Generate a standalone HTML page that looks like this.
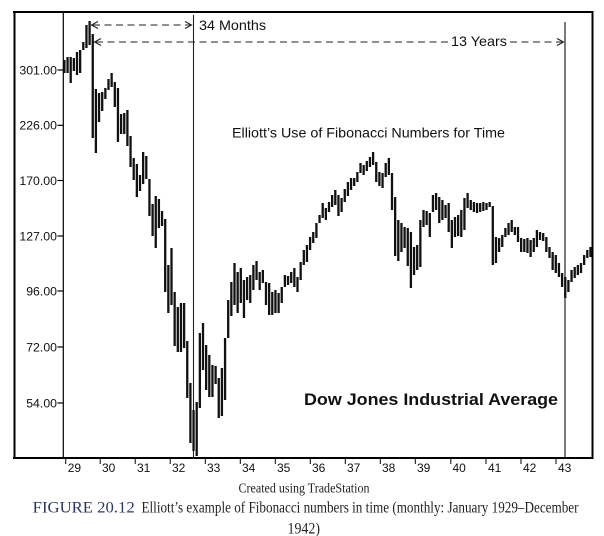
<!DOCTYPE html>
<html><head><meta charset="utf-8"><style>
html,body{margin:0;padding:0;background:#fff;}
svg{display:block;}
</style></head><body>
<svg width="604" height="536" viewBox="0 0 604 536" xmlns="http://www.w3.org/2000/svg">
<rect width="604" height="536" fill="#fff"/>
<!-- frame -->
<g stroke="#000" fill="none">
<line x1="13" y1="12" x2="593.5" y2="12" stroke-width="2"/>
<line x1="14.5" y1="11" x2="14.5" y2="459" stroke-width="2"/>
<line x1="13" y1="458" x2="593.5" y2="458" stroke-width="2"/>
<line x1="592.5" y1="11" x2="592.5" y2="459" stroke-width="2"/>
<line x1="63.3" y1="12" x2="63.3" y2="458" stroke-width="1.2"/>
<line x1="193.5" y1="15" x2="193.5" y2="458" stroke-width="1.1" stroke="#222"/>
<line x1="565" y1="22" x2="565" y2="458" stroke-width="1.2" stroke="#222"/>
</g>
<!-- y ticks -->
<g stroke="#000" stroke-width="1.2">
<line x1="57.5" y1="70" x2="63" y2="70"/>
<line x1="57.5" y1="125.3" x2="63" y2="125.3"/>
<line x1="57.5" y1="180.5" x2="63" y2="180.5"/>
<line x1="57.5" y1="236" x2="63" y2="236"/>
<line x1="57.5" y1="291" x2="63" y2="291"/>
<line x1="57.5" y1="347" x2="63" y2="347"/>
<line x1="57.5" y1="403" x2="63" y2="403"/>
</g>
<g font-family="Liberation Sans, Arial, sans-serif" font-size="12.3" fill="#111" text-anchor="end">
<text x="57" y="74.3">301.00</text>
<text x="57" y="129.6">226.00</text>
<text x="57" y="184.8">170.00</text>
<text x="57" y="240.4">127.00</text>
<text x="57" y="295.3">96.00</text>
<text x="57" y="351.3">72.00</text>
<text x="57" y="407.3">54.00</text>
</g>
<!-- x ticks -->
<g stroke="#000" stroke-width="1">
<line x1="65.7" y1="459" x2="65.7" y2="464"/>
<line x1="100.2" y1="459" x2="100.2" y2="464"/>
<line x1="135.2" y1="459" x2="135.2" y2="464"/>
<line x1="170.2" y1="459" x2="170.2" y2="464"/>
<line x1="205.3" y1="459" x2="205.3" y2="464"/>
<line x1="240.3" y1="459" x2="240.3" y2="464"/>
<line x1="275.3" y1="459" x2="275.3" y2="464"/>
<line x1="310.3" y1="459" x2="310.3" y2="464"/>
<line x1="345.3" y1="459" x2="345.3" y2="464"/>
<line x1="380.3" y1="459" x2="380.3" y2="464"/>
<line x1="415.3" y1="459" x2="415.3" y2="464"/>
<line x1="450.8" y1="459" x2="450.8" y2="464"/>
<line x1="486" y1="459" x2="486" y2="464"/>
<line x1="521" y1="459" x2="521" y2="464"/>
<line x1="556" y1="459" x2="556" y2="464"/>
</g>
<g font-family="Liberation Sans, Arial, sans-serif" font-size="12" fill="#111">
<text x="67.7" y="472">29</text>
<text x="102" y="472">30</text>
<text x="137" y="472">31</text>
<text x="172" y="472">32</text>
<text x="207" y="472">33</text>
<text x="242" y="472">34</text>
<text x="277" y="472">35</text>
<text x="312" y="472">36</text>
<text x="347" y="472">37</text>
<text x="382" y="472">38</text>
<text x="417" y="472">39</text>
<text x="452.5" y="472">40</text>
<text x="488" y="472">41</text>
<text x="523" y="472">42</text>
<text x="558" y="472">43</text>
</g>
<!-- bars -->
<path fill="none" stroke="#111" stroke-width="2.3" d="
M64.4 60V73 M67.55 57V73 M70.7 57V83 M73.85 58V71 M77 52V75 M80.15 50V73 M83.3 42V50 M86.45 25V48 M89.6 21V45 M92.75 34V138
M95.9 89V153 M99.05 93V122 M102.2 92V111 M105.35 88V99 M108.5 79V90 M111.65 73V87 M114.8 82V107 M117.95 88V142 M121.1 114V134 M124.25 113V134
M127.4 110V146 M130.55 136V167 M133.7 158V180 M136.85 164V197 M140 175V191 M143.15 152V184 M146.3 156V179 M149.45 179V216 M152.6 204V236 M155.75 196V248
M158.9 199V228 M162.05 211V226 M165.2 219V292 M168.35 265V313 M171.5 248V305 M174.65 292V346 M177.8 307V352 M180.95 303V352 M184.1 303V348 M187.25 341V398
M190.4 383V443 M193.55 410V451 M196.7 402V456 M199.85 333V408 M203 323V370 M206.15 345V390 M209.3 355V397 M212.45 365V397 M215.6 366V384 M218.75 378V418
M221.9 368V416 M225.05 338V400 M228.2 300V338 M231.35 282V316 M234.5 263V305 M237.65 272V313 M240.8 268V303 M243.95 280V318 M247.1 277V300 M250.25 275V303
M253.4 265V290 M256.55 261V280 M259.7 272V290 M262.85 270V283 M266 282V305 M269.15 283V315 M272.3 292V315 M275.45 290V313 M278.6 293V313 M281.75 287V303
M284.9 275V287 M288.05 276V285 M291.2 272V283 M294.35 268V287 M297.5 277V292 M300.65 262V280 M303.8 250V265 M306.95 245V262 M310.1 237V250 M313.25 232V243
M316.4 223V238 M319.55 215V223 M322.7 203V218 M325.85 208V220 M329 202V212 M332.15 195V207 M335.3 190V205 M338.45 195V216 M341.6 198V212 M344.75 189V202
M347.9 182V196 M351.05 178V190 M354.2 178V186 M357.35 172V182 M360.5 163V173 M363.65 165V175 M366.8 161V171 M369.95 157V167 M373.1 152V165 M376.25 162V182
M379.4 172V186 M382.55 173V188 M385.7 163V177 M388.85 158V175 M392 173V210 M395.15 197V256 M398.3 220V261 M401.45 223V252 M404.6 227V248 M407.75 228V266
M410.9 232V288 M414.05 247V275 M417.2 245V270 M420.35 220V267 M423.5 210V227 M426.65 211V225 M429.8 213V237 M432.95 195V212 M436.1 193V210 M439.25 197V223
M442.4 200V220 M445.55 205V218 M448.7 203V232 M451.85 220V248 M455 217V237 M458.15 215V236 M461.3 210V237 M464.45 198V230 M467.6 193V208 M470.75 200V210
M473.9 202V212 M477.05 203V213 M480.2 203V212 M483.35 202V211 M486.5 203V210 M489.65 202V207 M492.8 206V265 M495.95 237V263 M499.1 238V252 M502.25 235V247
M505.4 228V237 M508.55 223V235 M511.7 220V232 M514.85 227V235 M518 227V242 M521.15 238V252 M524.3 239V252 M527.45 238V253 M530.6 240V257 M533.75 238V252
M536.9 230V247 M540.05 232V240 M543.2 233V241 M546.35 237V252 M549.5 247V258 M552.65 252V270 M555.8 255V273 M558.95 263V277 M562.1 273V287 M565.25 277V298
M568.4 280V292 M571.55 270V282 M574.7 267V278 M577.85 265V275 M581 263V273 M584.15 255V265 M587.3 250V258 M590.45 247V257"/>
<!-- arrows -->
<g stroke="#222" stroke-width="1.1" fill="none">
<line x1="93" y1="25" x2="190" y2="25" stroke-dasharray="7,4.5"/>
<polyline points="98,21.5 91.5,25 98,28.5"/>
<polyline points="185,21.5 191.5,25 185,28.5"/>
<line x1="96" y1="42" x2="448" y2="42" stroke-dasharray="7,4.5"/>
<line x1="510" y1="42" x2="562" y2="42" stroke-dasharray="7,4.5"/>
<polyline points="101,38.5 94.5,42 101,45.5"/>
<polyline points="557,38.5 563.5,42 557,45.5"/>
</g>
<g font-family="Liberation Sans, Arial, sans-serif" fill="#111">
<text x="199" y="30" font-size="13.8" textLength="67" lengthAdjust="spacingAndGlyphs">34 Months</text>
<text x="451" y="46" font-size="13.8" textLength="56" lengthAdjust="spacingAndGlyphs">13 Years</text>
<text x="232" y="137.3" font-size="13.6" textLength="273" lengthAdjust="spacingAndGlyphs">Elliott’s Use of Fibonacci Numbers for Time</text>
<text x="304" y="405" font-size="17" font-weight="bold" textLength="254" lengthAdjust="spacingAndGlyphs">Dow Jones Industrial Average</text>
</g>
<!-- caption -->
<g font-family="Liberation Serif, Times New Roman, serif">
<text x="238.5" y="492.3" font-size="14" fill="#231f20" textLength="131" lengthAdjust="spacingAndGlyphs">Created using TradeStation</text>
<text x="32.7" y="512.6" font-size="16" fill="#2b3760" textLength="102" lengthAdjust="spacingAndGlyphs">FIGURE 20.12</text>
<text x="141.5" y="512.6" font-size="16" fill="#231f20" textLength="437" lengthAdjust="spacingAndGlyphs">Elliott’s example of Fibonacci numbers in time (monthly: January 1929–December</text>
<text x="287.5" y="533.3" font-size="16" fill="#231f20" textLength="32.5" lengthAdjust="spacingAndGlyphs">1942)</text>
</g>
</svg>
</body></html>
